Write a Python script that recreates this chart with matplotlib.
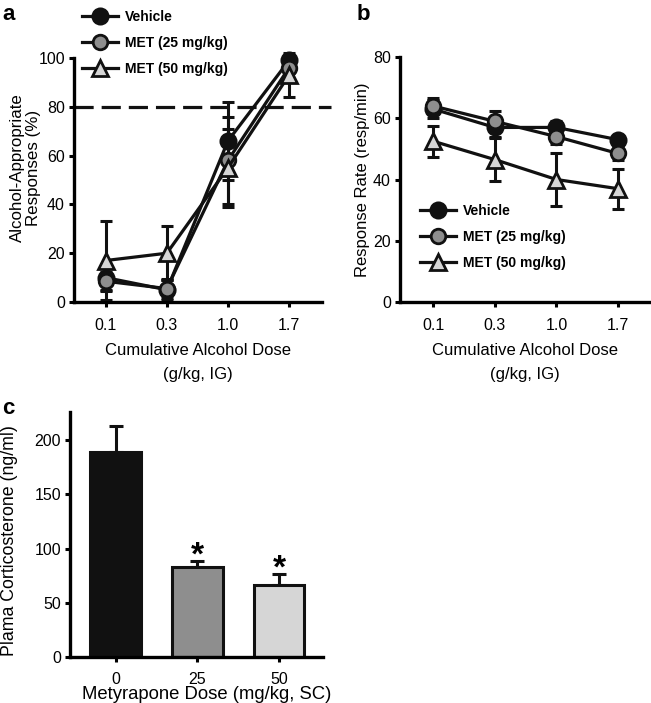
import matplotlib
matplotlib.use("Agg")
import matplotlib.pyplot as plt
from matplotlib.lines import Line2D
import numpy as np

plt.rcParams['font.family'] = ['Liberation Sans', 'DejaVu Sans']

doses = ["0.1", "0.3", "1.0", "1.7"]
series = ["Vehicle", "MET (25 mg/kg)", "MET (50 mg/kg)"]

# Panel a: alcohol-appropriate responses (%)
a_vehicle = [10, 5, 66, 99]
a_vehicle_err = [5, 4, 16, 1]
a_met25 = [8.5, 5.5, 58, 96]
a_met25_err = [4, 4, 18, 2]
a_met50 = [17, 20, 55, 93]
a_met50_err = [16, 11, 16, 9]

# Panel b: response rate (resp/min)
b_vehicle = [63, 57, 57, 53]
b_vehicle_err = [3, 3, 2, 1.5]
b_met25 = [64, 59, 54, 48.5]
b_met25_err = [2.5, 3.5, 2.5, 2]
b_met50 = [52.5, 46.5, 40, 37]
b_met50_err = [5, 7, 8.5, 6.5]

# Panel c: plasma corticosterone
c_doses = ["0", "25", "50"]
c_values = [189, 83, 66]
c_err = [24, 6, 11]
c_sig = [False, True, True]

W, H = 651, 703
fig = plt.figure(figsize=(W / 100, H / 100), dpi=100)

def px_axes(left, right, top, bottom):
    return fig.add_axes([left / W, 1 - bottom / H, (right - left) / W, (bottom - top) / H])

col_fill = ["#111111", "#8e8e8e", "#d6d6d6"]
markers = ["o", "o", "^"]
msizes = [11, 10.5, 12]
LW = 2.3

def style_axes(ax):
    for s in ["top", "right"]:
        ax.spines[s].set_visible(False)
    for s in ["left", "bottom"]:
        ax.spines[s].set_linewidth(2.4)
    ax.tick_params(width=2.2, length=3.5, pad=3, labelsize=11.5, direction="out")
    ax.tick_params(axis="x", pad=8)

def draw_lines(ax, ys, errs):
    x = np.arange(len(doses))
    for i in [2, 0, 1]:
        ax.errorbar(x, ys[i], yerr=errs[i], fmt="none", ecolor="#111111",
                    elinewidth=2.2, capsize=4.5, capthick=2.2, clip_on=False, zorder=2)
    for i in [2, 0, 1]:
        ax.plot(x, ys[i], color="#111111", lw=LW, marker=markers[i], ms=msizes[i],
                mfc=col_fill[i], mec="#111111", mew=2.0, clip_on=False, zorder=3 + i)
    handles = []
    for i in range(3):
        handles.append(Line2D([], [], color="#111111", lw=LW, marker=markers[i], ms=msizes[i],
                              mfc=col_fill[i], mec="#111111", mew=2.0))
    ax.set_xticks(x)
    ax.set_xticklabels(doses)
    return handles

def add_legend(ax, handles, x_px, y_px):
    ax.legend(handles, series, loc="upper left", bbox_to_anchor=(x_px / W, 1 - y_px / H),
              bbox_transform=fig.transFigure, frameon=False, handlelength=2.6,
              handletextpad=0.5, labelspacing=0.85, borderpad=0, borderaxespad=0,
              prop={"weight": "bold", "size": 10})

xlab = "Cumulative Alcohol Dose\n(g/kg, IG)"

# ---- Panel a ----
axa = px_axes(74, 322, 58, 302)
style_axes(axa)
ha = draw_lines(axa, [a_vehicle, a_met25, a_met50], [a_vehicle_err, a_met25_err, a_met50_err])
axa.set_xlim(-0.52, 3.54)
axa.set_ylim(0, 100)
axa.set_yticks([0, 20, 40, 60, 80, 100])
axa.plot([0, 1.035], [80, 80], transform=axa.get_yaxis_transform(), color="#111111",
         lw=2.3, ls=(0, (6, 2.5)), clip_on=False, zorder=1)
axa.set_ylabel("Alcohol-Appropriate\nResponses (%)", fontsize=12.2, linespacing=1.05)
axa.yaxis.set_label_coords(-33 / 248, 0.55)
axa.set_xlabel(xlab, fontsize=12, labelpad=7, linespacing=1.75)
add_legend(axa, ha, 82, 10)
fig.text(2 / W, 1 - 14 / H, "a", fontsize=16, fontweight="bold", va="center", ha="left")

# ---- Panel b ----
axb = px_axes(400, 650, 57, 302)
style_axes(axb)
hb = draw_lines(axb, [b_vehicle, b_met25, b_met50], [b_vehicle_err, b_met25_err, b_met50_err])
axb.set_xlim(-0.54, 3.52)
axb.set_ylim(0, 80)
axb.set_yticks([0, 20, 40, 60, 80])
axb.set_ylabel("Response Rate (resp/min)", fontsize=12)
axb.yaxis.set_label_coords(-30 / 250, 0.5)
axb.set_xlabel(xlab, fontsize=12, labelpad=7, linespacing=1.75)
add_legend(axb, hb, 420, 204)
fig.text(357 / W, 1 - 14 / H, "b", fontsize=16, fontweight="bold", va="center", ha="left")

# ---- Panel c ----
axc = px_axes(70, 323, 412, 657)
style_axes(axc)
xc = np.arange(len(c_doses))
axc.bar(xc, c_values, width=0.62, color=col_fill, edgecolor="#111111", linewidth=2.2, zorder=2)
axc.errorbar(xc, c_values, yerr=[[0] * len(c_err), c_err], fmt="none", ecolor="#111111",
             elinewidth=2.2, capsize=5, capthick=2.2, zorder=1)
for xi, v, e, s in zip(xc, c_values, c_err, c_sig):
    if s:
        axc.annotate("*", (xi, v + e), xytext=(0, -3), textcoords="offset points",
                     ha="center", va="baseline", fontsize=24, fontweight="bold")
axc.set_xlim(-0.56, 2.54)
axc.set_ylim(0, 226)
axc.set_yticks([0, 50, 100, 150, 200])
axc.set_xticks(xc)
axc.set_xticklabels(c_doses)
axc.tick_params(axis="x", pad=7)
axc.set_ylabel("Plama Corticosterone (ng/ml)", fontsize=12.8)
axc.yaxis.set_label_coords(-52 / 253, 0.475)
axc.set_xlabel("Metyrapone Dose (mg/kg, SC)", fontsize=13.3)
axc.xaxis.set_label_coords(137 / 253, -29 / 245)
fig.text(2 / W, 1 - 408 / H, "c", fontsize=16, fontweight="bold", va="center", ha="left")

fig.savefig("out.png", dpi=100)
